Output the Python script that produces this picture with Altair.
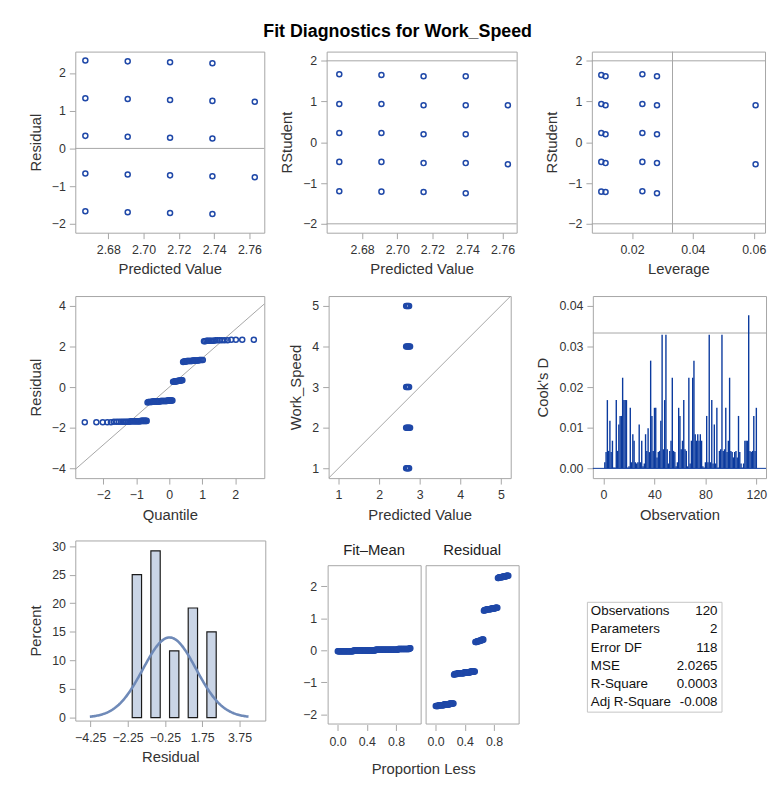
import altair as alt
import pandas as pd

# ---------------- data ----------------
work_speed = [1, 2, 3, 4, 5]
pred_values = [2.667, 2.691, 2.715, 2.739, 2.763]
leverage_values = [0.0234, 0.0099, 0.0113, 0.0282, 0.0606]
fit_minus_mean = [-0.033, -0.009, 0.015, 0.039, 0.063]

resid_g1 = [-1.667, -0.667, 0.333, 1.333, 2.333]
resid_g2 = [-1.691, -0.691, 0.309, 1.309, 2.309]
resid_g3 = [-1.715, -0.715, 0.285, 1.285, 2.285]
resid_g4 = [-1.739, -0.739, 0.261, 1.261, 2.261]
resid_g5 = [None, -0.763, None, 1.237, None]

rstud_g1 = [-1.20, -0.48, 0.23, 0.94, 1.67]
rstud_g2 = [-1.21, -0.48, 0.23, 0.94, 1.65]
rstud_g3 = [-1.22, -0.51, 0.20, 0.91, 1.62]
rstud_g4 = [-1.25, -0.51, 0.20, 0.91, 1.62]
rstud_g5 = [None, -0.54, None, 0.91, None]

count_g1 = [7, 8, 3, 4, 4]
count_g2 = [9, 10, 4, 7, 6]
count_g3 = [9, 11, 4, 7, 6]
count_g4 = [5, 5, 3, 4, 2]
count_g5 = [0, 1, 0, 1, 0]

zero_line = [0.0]
rstudent_cutoffs = [-2.0, 2.0]
leverage_cutoff = [0.0333]
cooks_cutoff = [0.0333]
rmse = 1.4236
qq_line_q = [-3.0, 3.0]
diag_line = [0.5, 5.5]

cooks_d = [
    0.0015, 0.0040, 0.0168, 0.0043, 0.0117, 0.0040, 0.0068, 0.0002, 0.0002, 0.0168,
    0.0043, 0.0108, 0.0129, 0.0129, 0.0223, 0.0168, 0.0168, 0.0168, 0.0002, 0.0005,
    0.0149, 0.0015, 0.0084, 0.0068, 0.0015, 0.0012, 0.0015, 0.0108, 0.0015, 0.0068,
    0.0005, 0.0012, 0.0084, 0.0043, 0.0099, 0.0040, 0.0265, 0.0129, 0.0043, 0.0149,
    0.0149, 0.0027, 0.0040, 0.0043, 0.0117, 0.0329, 0.0047, 0.0168, 0.0329, 0.0047,
    0.0012, 0.0043, 0.0068, 0.0223, 0.0043, 0.0040, 0.0005, 0.0015, 0.0149, 0.0129,
    0.0047, 0.0068, 0.0168, 0.0047, 0.0043, 0.0005, 0.0223, 0.0012, 0.0068, 0.0223,
    0.0265, 0.0084, 0.0068, 0.0084, 0.0068, 0.0084, 0.0068, 0.0005, 0.0002, 0.0015,
    0.0129, 0.0015, 0.0329, 0.0015, 0.0168, 0.0012, 0.0108, 0.0012, 0.0149, 0.0002,
    0.0043, 0.0047, 0.0329, 0.0043, 0.0047, 0.0149, 0.0040, 0.0068, 0.0223, 0.0043,
    0.0040, 0.0027, 0.0040, 0.0043, 0.0027, 0.0129, 0.0040, 0.0012, 0.0002, 0.0012,
    0.0068, 0.0068, 0.0068, 0.0377, 0.0043, 0.0040, 0.0043, 0.0129, 0.0043, 0.0149,
]

hist_lower = [-2.0, -1.0, 0.0, 1.0, 2.0]
hist_percent = [25.0, 29.17, 11.67, 19.17, 15.0]
hist_bin_width = 0.5
curve_range = [-4.27, 4.28, 0.05]

stat_labels = ["Observations", "Parameters", "Error DF", "MSE", "R-Square", "Adj R-Square"]
stat_values = ["120", "2", "118", "2.0265", "0.0003", "-0.008"]

# ---------------- tables ----------------
resid_groups = [resid_g1, resid_g2, resid_g3, resid_g4, resid_g5]
rstud_groups = [rstud_g1, rstud_g2, rstud_g3, rstud_g4, rstud_g5]
count_groups = [count_g1, count_g2, count_g3, count_g4, count_g5]

cell_rows = []
for g in range(5):
    for k, ws in enumerate(work_speed):
        if count_groups[g][k] > 0:
            cell_rows.append(dict(pred=pred_values[g], lev=leverage_values[g],
                                  fitmean=fit_minus_mean[g], ws=ws,
                                  resid=resid_groups[g][k], rstud=rstud_groups[g][k],
                                  n=count_groups[g][k]))
cells = pd.DataFrame(cell_rows)
obs = cells.loc[cells.index.repeat(cells["n"])].reset_index(drop=True)

rf = pd.concat([
    pd.DataFrame({"panel": "Fit\u2013Mean", "value": obs["fitmean"]}),
    pd.DataFrame({"panel": "Residual", "value": obs["resid"]}),
], ignore_index=True)

cook_df = pd.DataFrame({"obs": list(range(1, len(cooks_d) + 1)), "cooksd": cooks_d})
hist_df = pd.DataFrame({"lo": hist_lower, "pct": hist_percent})
table_df = pd.concat([
    pd.DataFrame({"stat": stat_labels, "col": "label", "txt": stat_labels}),
    pd.DataFrame({"stat": stat_labels, "col": "value", "txt": stat_values}),
], ignore_index=True)

# ---------------- style ----------------
FONT = "Liberation Sans"
MARK = "#1f48a8"
NEEDLE = "#0b3a9e"
REF = "#a6a6a6"
TITLE_SIZE = 15


def sc(dom):
    return alt.Scale(domain=dom, nice=False, zero=False)


def circles(data):
    return alt.Chart(data).mark_point(shape="circle", filled=False, size=26,
                                      strokeWidth=1.5, color=MARK, opacity=1)


# Panel 1: residual vs predicted
y_res = alt.Y("resid:Q", scale=sc([-2.236, 2.568]),
              axis=alt.Axis(values=[-2, -1, 0, 1, 2], title="Residual"))
x_pred = alt.X("pred:Q", scale=sc([2.6613, 2.7684]),
               axis=alt.Axis(values=[2.68, 2.70, 2.72, 2.74, 2.76], format=".2f",
                             title="Predicted Value"))
p1 = alt.layer(
    alt.Chart(pd.DataFrame({"resid": zero_line})).mark_rule(color=REF).encode(y=y_res),
    circles(cells).encode(x=x_pred, y=y_res),
).properties(width=191, height=183)

# Panel 2: RStudent vs predicted
y_rs = alt.Y("rstud:Q", scale=sc([-2.218, 2.226]),
             axis=alt.Axis(values=[-2, -1, 0, 1, 2], title="RStudent"))
x_pred2 = alt.X("pred:Q", scale=sc([2.6598, 2.768]),
                axis=alt.Axis(values=[2.68, 2.70, 2.72, 2.74, 2.76], format=".2f",
                              title="Predicted Value"))
p2 = alt.layer(
    alt.Chart(pd.DataFrame({"rstud": rstudent_cutoffs})).mark_rule(color=REF).encode(y=y_rs),
    circles(cells).encode(x=x_pred2, y=y_rs),
).properties(width=192, height=183)

# Panel 3: RStudent vs leverage
x_lev = alt.X("lev:Q", scale=sc([0.0068, 0.0637]),
              axis=alt.Axis(values=[0.02, 0.04, 0.06], format=".2f", title="Leverage"))
p3 = alt.layer(
    alt.Chart(pd.DataFrame({"rstud": rstudent_cutoffs})).mark_rule(color=REF).encode(y=y_rs),
    alt.Chart(pd.DataFrame({"lev": leverage_cutoff})).mark_rule(color=REF).encode(x=x_lev),
    circles(cells).encode(x=x_lev, y=y_rs),
).properties(width=175, height=183)

# Panel 4: QQ plot
x_q = alt.X("q:Q", scale=sc([-2.85, 2.88]),
            axis=alt.Axis(values=[-2, -1, 0, 1, 2], title="Quantile"))
y_q = alt.Y("resid:Q", scale=sc([-4.49, 4.49]),
            axis=alt.Axis(values=[-4, -2, 0, 2, 4], title="Residual"))
p4 = alt.layer(
    alt.Chart(pd.DataFrame({"q": qq_line_q})).transform_calculate(
        resid=f"datum.q * {rmse}").mark_line(color=REF, strokeWidth=1, clip=True).encode(x=x_q, y=y_q),
    circles(obs).transform_window(rn="row_number()", sort=[alt.SortField("resid")]
    ).transform_joinaggregate(nt="count()").transform_calculate(
        q="quantileNormal((datum.rn - 0.375) / (datum.nt + 0.25))").encode(x=x_q, y=y_q),
).properties(width=191, height=184)

# Panel 5: observed vs predicted
x_p5 = alt.X("pred:Q", scale=sc([0.757, 5.243]),
             axis=alt.Axis(values=[1, 2, 3, 4, 5], title="Predicted Value"))
y_p5 = alt.Y("ws:Q", scale=sc([0.757, 5.243]),
             axis=alt.Axis(values=[1, 2, 3, 4, 5], title="Work_Speed"))
p5 = alt.layer(
    alt.Chart(pd.DataFrame({"pred": diag_line})).transform_calculate(ws="datum.pred").mark_line(
        color=REF, strokeWidth=1, clip=True).encode(x=x_p5, y=y_p5),
    circles(cells).encode(x=x_p5, y=y_p5),
).properties(width=184, height=184)

# Panel 6: Cook's D
x_obs = alt.X("obs:Q", scale=sc([-8.4, 127.6]),
              axis=alt.Axis(values=[0, 40, 80, 120], title="Observation"))
y_cd = alt.Y("cooksd:Q", scale=sc([-0.0024, 0.0424]),
             axis=alt.Axis(values=[0, 0.01, 0.02, 0.03, 0.04], format=".2f", title="Cook's D"))
p6 = alt.layer(
    alt.Chart(pd.DataFrame({"cooksd": cooks_cutoff})).mark_rule(color=REF).encode(y=y_cd),
    alt.Chart(pd.DataFrame({"cooksd": zero_line})).mark_rule(color=NEEDLE).encode(y=y_cd),
    alt.Chart(cook_df).mark_rule(color=NEEDLE, strokeWidth=1.4).encode(
        x=x_obs, y=y_cd, y2=alt.datum(0)),
).properties(width=175, height=184)

# Panel 7: histogram with normal curve
x_h = alt.X("lo:Q", scale=sc([-5.05, 5.13]),
            axis=alt.Axis(values=[-4.25, -2.25, -0.25, 1.75, 3.75], format=".2f", title="Residual"))
y_h = alt.Y("pct:Q", scale=sc([-0.52, 30.98]),
            axis=alt.Axis(values=[0, 5, 10, 15, 20, 25, 30], title="Percent"))
p7 = alt.layer(
    alt.Chart(hist_df).transform_calculate(hi=f"datum.lo + {hist_bin_width}").mark_bar(
        fill="#cad5e6", stroke="#1a1a1a", strokeWidth=1.2).encode(
        x=x_h, x2="hi:Q", y=y_h, y2=alt.datum(0)),
    alt.Chart(alt.sequence(curve_range[0], curve_range[1], curve_range[2], as_="lo")).transform_calculate(
        pct=f"densityNormal(datum.lo, 0, {rmse}) * {hist_bin_width} * 100").mark_line(
        color="#6f8ab8", strokeWidth=2.6).encode(x=x_h, y=y_h),
).properties(width=192, height=182)

# Panel 8: residual-fit spread
p8 = circles(rf).transform_window(
    rn="row_number()", sort=[alt.SortField("value")], groupby=["panel"]
).transform_joinaggregate(nt="count()", groupby=["panel"]).transform_calculate(
    prop="(datum.rn - 0.5) / datum.nt"
).encode(
    x=alt.X("prop:Q", scale=sc([-0.135, 1.137]),
            axis=alt.Axis(values=[0, 0.4, 0.8], format=".1f", title=None)),
    y=alt.Y("value:Q", scale=sc([-2.29, 2.66]),
            axis=alt.Axis(values=[-2, -1, 0, 1, 2], title=None)),
).properties(width=94, height=160).facet(
    column=alt.Column("panel:N", sort=["Fit\u2013Mean", "Residual"],
                      header=alt.Header(title="Proportion Less", titleOrient="bottom",
                                        titleFontSize=TITLE_SIZE, titleFont=FONT, titleColor="#333",
                                        titleFontWeight="normal", titlePadding=4,
                                        labelOrient="top", labelFontSize=TITLE_SIZE, labelFont=FONT,
                                        labelColor="#222", labelPadding=6)),
    spacing=3,
)

# Panel 9: fit statistics table
x_t = alt.X("col:N", scale=alt.Scale(type="point", domain=["label", "value"], padding=0), axis=None)
y_t = alt.Y("stat:N", sort=stat_labels, scale=alt.Scale(type="point", padding=0.5), axis=None)
table = alt.layer(
    alt.Chart(table_df).transform_filter("datum.col == 'label'").mark_text(
        align="left", dx=4, fontSize=13.5, font=FONT, color="#111").encode(x=x_t, y=y_t, text="txt:N"),
    alt.Chart(table_df).transform_filter("datum.col == 'value'").mark_text(
        align="right", dx=-4, fontSize=13.5, font=FONT, color="#111").encode(x=x_t, y=y_t, text="txt:N"),
).properties(width=136, height=111, view=alt.ViewBackground(stroke="#c4c4c4"))


def spacer():
    return alt.Chart(pd.DataFrame({"a": [0]})).mark_point(opacity=0).encode(
        x=alt.value(0), y=alt.value(0)).properties(
        width=1, height=1, view=alt.ViewBackground(strokeOpacity=0))


row1 = alt.hconcat(alt.hconcat(p1, p2, spacing=14), p3, spacing=27)
row2 = alt.hconcat(alt.hconcat(p4, p5, spacing=23), p6, spacing=24)
row3 = alt.hconcat(alt.hconcat(p7, alt.vconcat(spacer(), p8, spacing=0), spacing=36),
                   alt.vconcat(spacer(), table, spacing=58),
                   spacing=65)

chart = alt.vconcat(
    alt.vconcat(row1, row2, spacing=18), row3, spacing=15
).properties(
    title=alt.Title("Fit Diagnostics for Work_Speed", fontSize=18, fontWeight="bold",
                    font=FONT, color="#000", anchor="middle", offset=10),
    padding={"left": 20, "top": 11, "right": 0, "bottom": 0},
).configure_view(
    stroke="#a6a6a6", strokeWidth=1
).configure_axis(
    labelFont=FONT, labelFontSize=12.5, labelColor="#333", titleFont=FONT, titleFontSize=TITLE_SIZE,
    titleFontWeight="normal", titleColor="#333", tickColor="#a6a6a6", tickSize=6,
    domain=False, grid=False,
).configure_axisX(labelPadding=5, titlePadding=6).configure_axisY(labelPadding=4, titlePadding=8)

chart.save("out.html", embed_options={"renderer": "svg", "actions": False})
